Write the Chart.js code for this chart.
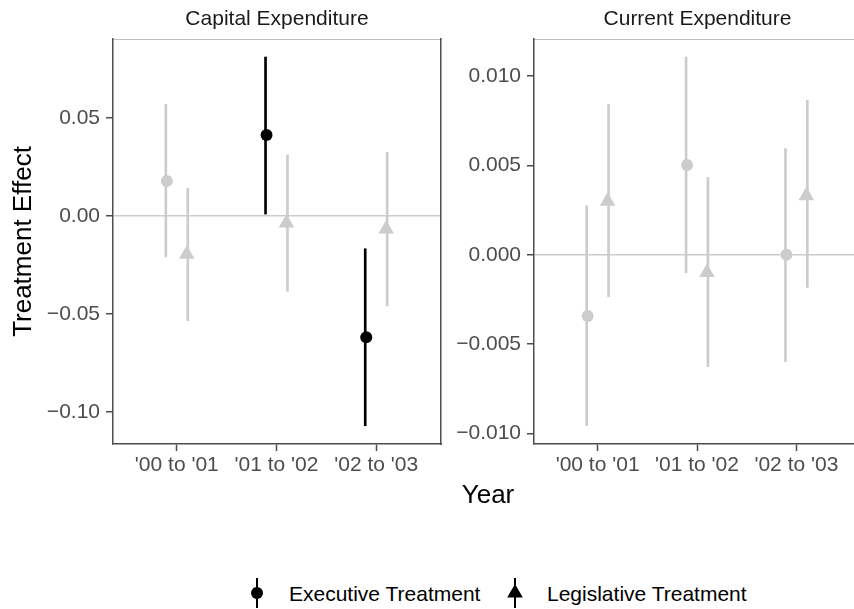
<!DOCTYPE html>
<html>
<head>
<meta charset="utf-8">
<script src="https://cdn.jsdelivr.net/npm/chart.js@4.4.1/dist/chart.umd.min.js"></script>
<style>
  html, body { margin: 0; padding: 0; width: 854px; height: 609px; overflow: hidden; background: #fff; }
  body { position: relative; font-family: "Liberation Sans", Arial, sans-serif; }
  .panel { position: absolute; top: 0; height: 480px; }
  #capWrap { left: 0; width: 450px; }
  #curWrap { left: 450px; width: 420px; }
  #xTitle { position: absolute; left: 388px; width: 200px; top: 479px; text-align: center; font-size: 26px; line-height: 1.2; color: #000; }
  .legItem { position: absolute; top: 576px; height: 34px; }
  .legText { position: absolute; top: 581px; font-size: 21px; line-height: 1.2; color: #000; white-space: nowrap; }
</style>
</head>
<body>
<div class="panel" id="capWrap"><canvas id="capChart"></canvas></div>
<div class="panel" id="curWrap"><canvas id="curChart"></canvas></div>
<div id="xTitle">Year</div>

<svg class="legItem" style="left:247px" width="20" height="34">
  <line x1="10" y1="2" x2="10" y2="32" stroke="#000" stroke-width="2"/>
  <circle cx="10" cy="17" r="6" fill="#000"/>
</svg>
<div class="legText" style="left:289px">Executive Treatment</div>
<svg class="legItem" style="left:505px" width="20" height="34">
  <line x1="10" y1="2" x2="10" y2="32" stroke="#000" stroke-width="2"/>
  <polygon points="10,8 17.8,21.5 2.2,21.5" fill="#000"/>
</svg>
<div class="legText" style="left:547px">Legislative Treatment</div>

<script>
// Categories
const years = ["'00 to '01", "'01 to '02", "'02 to '03"];

// Capital expenditure: estimates and confidence bounds
const capExecEst = [0.0179, 0.0413, -0.0619];
const capExecLo = [-0.0209, 0.0010, -0.1070];
const capExecHi = [0.0570, 0.0811, -0.0167];
const capLegEst = [-0.0195, -0.0035, -0.0066];
const capLegLo = [-0.0534, -0.0384, -0.0459];
const capLegHi = [0.0141, 0.0311, 0.0325];

// Current expenditure
const curExecEst = [-0.00343, 0.00502, 0.0000];
const curExecLo = [-0.00957, -0.00101, -0.00599];
const curExecHi = [0.00274, 0.01107, 0.00594];
const curLegEst = [0.0030, -0.0010, 0.0033];
const curLegLo = [-0.00235, -0.00627, -0.00183];
const curLegHi = [0.00842, 0.00433, 0.00864];

// Tick values / labels
const capTicks = [-0.10, -0.05, 0, 0.05];
const capTickLabels = ['\u22120.10', '\u22120.05', '0.00', '0.05'];
const curTicks = [-0.010, -0.005, 0, 0.005, 0.010];
const curTickLabels = ['\u22120.010', '\u22120.005', '0.000', '0.005', '0.010'];

const DODGE = 0.1;
const SIG = '#000000', NONSIG = '#cccccc', AXIS = '#4d4d4d';
const FONT = "'Liberation Sans', Arial, sans-serif";

// black when the interval does not cross zero
function sigColors(lo, hi) {
    return lo.map((l, i) => (l > 0 || hi[i] < 0) ? SIG : NONSIG);
}

function bars(lo, hi, shift, colors) {
    return {
        type: 'bar',
        data: lo.map((l, i) => ({ x: i + 1 + shift, y: [l, hi[i]] })),
        backgroundColor: colors,
        borderWidth: 0,
        barThickness: 2,
        order: 2
    };
}

function points(est, shift, colors, style, radius) {
    return {
        type: 'scatter',
        data: est.map((v, i) => ({ x: i + 1 + shift, y: v })),
        pointStyle: style,
        pointRadius: radius,
        pointHoverRadius: radius,
        pointBackgroundColor: colors,
        pointBorderWidth: 0,
        order: 1
    };
}

function makePanel(id, cfg) {
    const execCol = sigColors(cfg.execLo, cfg.execHi);
    const legCol = sigColors(cfg.legLo, cfg.legHi);

    return new Chart(document.getElementById(id), {
        type: 'scatter',
        data: {
            datasets: [
                bars(cfg.execLo, cfg.execHi, -DODGE, execCol),
                bars(cfg.legLo, cfg.legHi, DODGE, legCol),
                points(cfg.execEst, -DODGE, execCol, 'circle', 6),
                points(cfg.legEst, DODGE, legCol, 'triangle', 9)
            ]
        },
        options: {
            responsive: true,
            maintainAspectRatio: false,
            animation: false,
            layout: { padding: { left: 0, right: cfg.padRight, top: 0, bottom: 0 } },
            plugins: { legend: { display: false }, title: { display: false }, tooltip: { enabled: false } },
            scales: {
                x: {
                    type: 'linear',
                    position: 'bottom',
                    min: 0.36, max: 3.65,
                    offset: false,
                    afterBuildTicks: s => { s.ticks = years.map((y, i) => ({ value: i + 1 })); },
                    afterFit: s => { s.height = 36; },
                    ticks: {
                        callback: (v, i) => years[i],
                        color: AXIS,
                        font: { family: FONT, size: 21 },
                        padding: 2,
                        maxRotation: 0,
                        autoSkip: false
                    },
                    grid: { offset: false, drawOnChartArea: false, drawTicks: true, tickLength: 7, tickColor: AXIS, tickWidth: 1.5 },
                    border: { display: true, color: AXIS, width: 1.5 }
                },
                xTop: {
                    type: 'linear',
                    position: 'top',
                    min: 0, max: 1,
                    afterFit: s => { s.height = 39; },
                    ticks: { display: false },
                    grid: { display: false, drawTicks: false },
                    border: { display: true, color: '#bdbdbd', width: 1 },
                    title: {
                        display: true,
                        text: cfg.title,
                        color: '#1a1a1a',
                        font: { family: FONT, size: 21 },
                        padding: { top: 6.5, bottom: 0 }
                    }
                },
                y: {
                    type: 'linear',
                    position: 'left',
                    min: cfg.yMin, max: cfg.yMax,
                    afterBuildTicks: s => { s.ticks = cfg.ticks.map(v => ({ value: v })); },
                    afterFit: s => { s.width = cfg.yWidth; },
                    ticks: {
                        callback: (v, i) => cfg.tickLabels[i],
                        color: AXIS,
                        font: { family: FONT, size: 21 },
                        padding: 6
                    },
                    grid: {
                        drawTicks: true,
                        tickLength: 7,
                        tickColor: AXIS,
                        tickWidth: 1.5,
                        lineWidth: 1.5,
                        color: c => (c.tick && c.tick.value === 0) ? NONSIG : 'rgba(0,0,0,0)'
                    },
                    border: { display: true, color: AXIS, width: 1.5 },
                    title: {
                        display: cfg.yTitle !== '',
                        text: cfg.yTitle,
                        color: '#000',
                        font: { family: FONT, size: 26 },
                        padding: { top: 8.5, bottom: 0 }
                    }
                },
                yRight: {
                    type: 'linear',
                    position: 'right',
                    min: 0, max: 1,
                    afterFit: s => { s.width = 0; },
                    ticks: { display: false },
                    grid: { display: false, drawTicks: false },
                    border: { display: true, color: AXIS, width: 1.5 }
                }
            }
        }
    });
}

makePanel('capChart', {
    title: 'Capital Expenditure',
    execEst: capExecEst, execLo: capExecLo, execHi: capExecHi,
    legEst: capLegEst, legLo: capLegLo, legHi: capLegHi,
    yMin: -0.1163, yMax: 0.0903,
    ticks: capTicks, tickLabels: capTickLabels,
    yTitle: 'Treatment Effect',
    yWidth: 113, padRight: 8
});

makePanel('curChart', {
    title: 'Current Expenditure',
    execEst: curExecEst, execLo: curExecLo, execHi: curExecHi,
    legEst: curLegEst, legLo: curLegLo, legHi: curLegHi,
    yMin: -0.0106, yMax: 0.01208,
    ticks: curTicks, tickLabels: curTickLabels,
    yTitle: '',
    yWidth: 84, padRight: 7
});
</script>
</body>
</html>
